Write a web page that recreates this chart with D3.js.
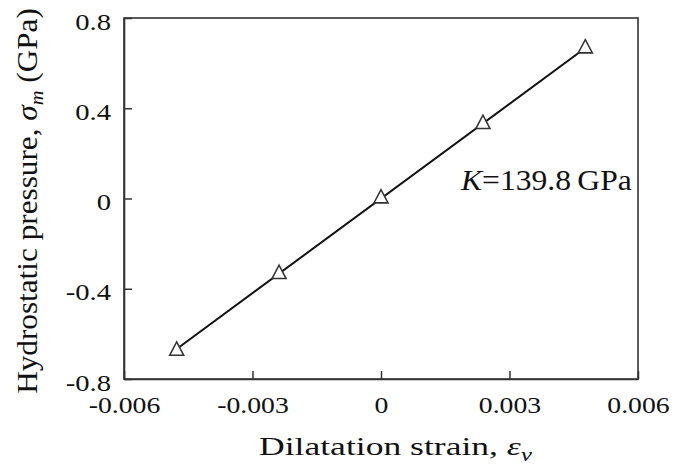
<!DOCTYPE html>
<html>
<head>
<meta charset="utf-8">
<script src="https://cdn.jsdelivr.net/npm/d3@7"></script>
<style>
  body { margin: 0; background: #fff; }
</style>
</head>
<body>
<svg></svg>
<script>
const width = 689;
const height = 466;
const serif = "Liberation Serif";

// data
var strain = [-0.00477, -0.00238, 0, 0.00238, 0.00477];
var pressure = [-0.675, -0.335, 0, 0.33, 0.665];
var xTicks = [-0.006, -0.003, 0, 0.003, 0.006];
var yTicks = [-0.8, -0.4, 0, 0.4, 0.8];
var xTickLabels = ["-0.006", "-0.003", "0", "0.003", "0.006"];
var yTickLabels = ["-0.8", "-0.4", "0", "0.4", "0.8"];
var modulus = 139.8;

let svg = d3.select("svg").attr("width", width).attr("height", height)
    .attr("font-family", serif);

const pLeft = 124, pRight = 638, pTop = 18, pBottom = 379;

let xScale = d3.scaleLinear().domain([-0.006, 0.006]).range([pLeft, pRight]);
let yScale = d3.scaleLinear().domain([-0.8, 0.8]).range([pBottom, pTop]);

//frame
svg.append("rect")
    .attr("x", pLeft).attr("y", pTop)
    .attr("width", pRight - pLeft).attr("height", pBottom - pTop)
    .attr("fill", "none").attr("stroke", "#333").attr("stroke-width", 1.6);

//Axes with inward ticks
let xAxis = d3.axisBottom(xScale).tickValues(xTicks)
    .tickFormat((d, i) => xTickLabels[i]).tickSizeInner(-8).tickSizeOuter(0);
let gx = svg.append("g").attr("transform", "translate(0," + pBottom + ")").call(xAxis);

let yAxis = d3.axisLeft(yScale).tickValues(yTicks)
    .tickFormat((d, i) => yTickLabels[i]).tickSizeInner(-8).tickSizeOuter(0);
let gy = svg.append("g").attr("transform", "translate(" + pLeft + ",0)").call(yAxis);

[gx, gy].forEach(g => {
    g.attr("font-family", serif).attr("font-size", 23.5);
    g.select(".domain").attr("stroke", "#333").attr("stroke-width", 1.6);
    g.selectAll(".tick line").attr("stroke", "#333").attr("stroke-width", 1.5);
    g.selectAll(".tick text").attr("font-family", serif).attr("font-size", 23.5)
        .attr("fill", "#111").attr("x", 0).attr("y", 0).attr("dy", null);
});
//the picture is a bit wider than tall, so the labels are stretched sideways
gx.selectAll(".tick text").attr("text-anchor", "middle")
    .attr("transform", "translate(0,34) scale(1.18,1)");
gy.selectAll(".tick text").attr("text-anchor", "end")
    .attr("transform", "translate(-13,11) scale(1.22,1)");

//Fitted line K * strain
let fit = d3.extent(strain).map(e => ({x: e, y: modulus * e}));
svg.append("path")
    .datum(fit)
    .attr("d", d3.line().x(d => xScale(d.x)).y(d => yScale(d.y)))
    .attr("stroke", "#111").attr("stroke-width", 2).attr("fill", "none");

//Triangle markers
let tri = d3.symbol().type(d3.symbolTriangle).size(85);
svg.selectAll(".pt")
    .data(strain.map((s, i) => ({x: s, y: pressure[i]})))
    .enter().append("path")
    .attr("class", "pt")
    .attr("d", tri)
    .attr("transform", d => "translate(" + xScale(d.x) + "," + yScale(d.y) + ") scale(1,1.1)")
    .attr("fill", "#fff").attr("stroke", "#333").attr("stroke-width", 1.5);

//stretch a text so it covers a given length
function fitText(t, x, y, len, extra) {
    let w = t.node().getBBox().width;
    t.attr("transform", "translate(" + x + "," + y + ")" + (extra || "") + " scale(" + (len / w) + ",1)");
}

//Annotation
let ann = svg.append("text").attr("font-size", 29).attr("font-family", serif).attr("fill", "#111");
ann.append("tspan").attr("font-style", "italic").text("K");
ann.append("tspan").text("=" + modulus + "\u2009GPa");
fitText(ann, 461, 190, 172);

//Axis titles
let xl = svg.append("text").attr("font-size", 26).attr("font-family", serif).attr("fill", "#111");
xl.append("tspan").text("Dilatation strain, ");
xl.append("tspan").attr("font-style", "italic").text("\u03b5");
xl.append("tspan").attr("font-style", "italic").attr("font-size", 18).attr("dy", 6).text("v");
fitText(xl, 259, 455, 273);

let yl = svg.append("text").attr("text-anchor", "middle")
    .attr("font-size", 29).attr("font-family", serif).attr("fill", "#111");
yl.append("tspan").text("Hydrostatic pressure, ");
yl.append("tspan").attr("font-style", "italic").text("\u03c3");
yl.append("tspan").attr("font-style", "italic").attr("font-size", 19).attr("dy", 6).text("m");
yl.append("tspan").attr("dy", -6).text(" (GPa)");
fitText(yl, 37, 201, 386, " rotate(-90)");
</script>
</body>
</html>
